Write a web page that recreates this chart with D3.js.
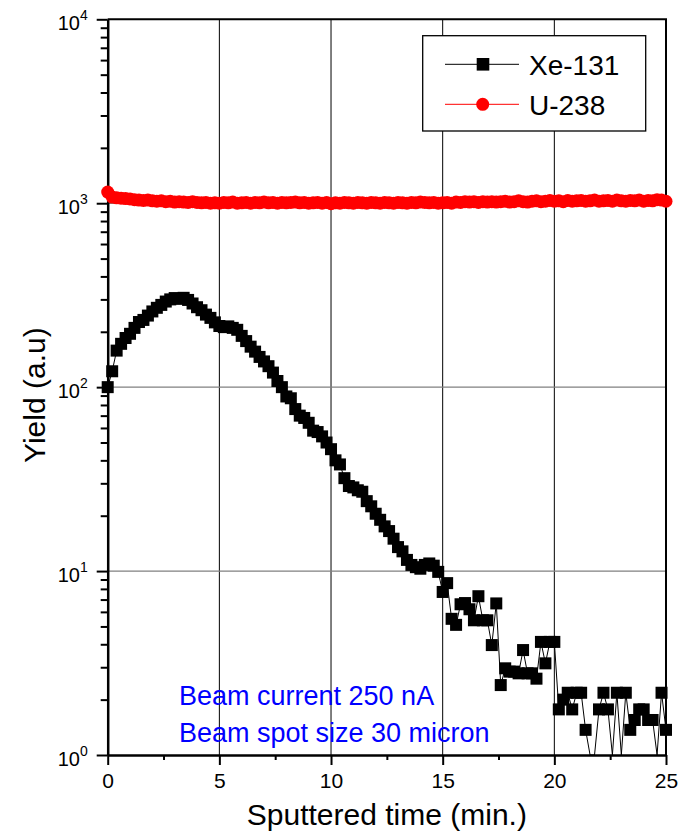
<!DOCTYPE html>
<html>
<head>
<meta charset="utf-8">
<script src="https://cdn.jsdelivr.net/npm/d3@7"></script>
<style>
  body { margin: 0; background: #fff; }
  svg { font-family: "Liberation Sans", Arial, sans-serif; }
</style>
</head>
<body>
<div id="grafico"></div>
<script>
// datos (paso de 0.2 min)
const TIEMPO_PASO = 0.2;
const XE_131 = [
  100, 122, 158, 172, 185, 195,
  210, 226, 232, 245, 258,
  270, 280, 292, 300, 305,
  302, 306, 298, 285, 272,
  262, 248, 238, 225, 215,
  212, 214, 210, 205, 190,
  178, 166, 156, 146, 138,
  130, 120, 108, 100, 89,
  87, 76, 70, 68, 64,
  58, 57, 54, 50, 46,
  40, 38, 32, 29, 28.5,
  27.5, 27, 24, 22.5, 20.5,
  19, 17.5, 16.5, 15, 13.5,
  12.8, 11.5, 10.8, 10.5, 10.3,
  10.8, 11.0, 10.7, 9.9, 7.7,
  8.6, 5.5, 5.1, 6.6, 6.7,
  6.2, 5.4, 7.3, 5.4, 5.4,
  3.96, 6.67, 2.4, 2.96, 2.84,
  2.84, 2.78, 3.72, 2.78, 2.78,
  2.6, 4.12, 3.15, 4.12, 4.12,
  1.77, 2.0, 2.18, 1.77, 2.18,
  2.18, 1.37, 0, 0, 1.77,
  2.18, 1.77, 0, 2.18, 0,
  2.18, 1.37, 1.55, 1.77, 1.77,
  1.55, 1.55, 0, 2.18, 1.37
];
const U_238 = [
  1150, 1080, 1070, 1065, 1060, 1055,
  1045, 1040, 1035, 1040, 1030,
  1025, 1030, 1020, 1025, 1015,
  1020, 1015, 1010, 1020, 1010,
  1005, 1010, 1000, 1005, 1000,
  1010, 1005, 1015, 1000, 1005,
  1010, 1000, 1010, 1005, 1015,
  1005, 1010, 1000, 1010, 1005,
  1010, 1015, 1005, 1010, 1000,
  1005, 1010, 1000, 1010, 995,
  1005, 1000, 1010, 1005, 1000,
  1010, 1005, 1000, 1010, 1005,
  1000, 1010, 1005, 1000, 1010,
  1005, 1000, 1010, 1005, 1015,
  1010, 1005, 1010, 1000, 1005,
  1010, 1000, 1015, 1010, 1020,
  1015, 1020, 1010, 1020, 1015,
  1020, 1015, 1020, 1025, 1015,
  1020, 1030, 1020, 1015, 1025,
  1030, 1020, 1025, 1035, 1025,
  1030, 1020, 1035, 1025, 1030,
  1035, 1025, 1030, 1040, 1025,
  1030, 1035, 1025, 1040, 1030,
  1025, 1035, 1030, 1040, 1025,
  1035, 1030, 1045, 1040, 1025
];
const X_TICKS = [0, 5, 10, 15, 20, 25];
const X_MINOR = [2.5, 7.5, 12.5, 17.5, 22.5];
const Y_TICKS = [1, 10, 100, 1000, 10000];
const Y_EXP = ["0", "1", "2", "3", "4"];
const SERIES = ["Xe-131", "U-238"];
const NOTAS = ["Beam current 250 nA", "Beam spot size 30 micron"];

const WIDTH = 681;
const HEIGHT = 833;
const X0 = 107.7, X1 = 666, Y0 = 755, Y1 = 19.3;

const SVG = d3.select("#grafico").append("svg").attr("width", WIDTH).attr("height", HEIGHT);

var x = d3.scaleLinear().domain([0, 25]).range([X0, X1]);
var y = d3.scaleLog().domain([1, 10000]).range([Y0, Y1]);

// grilla
SVG.append("g").selectAll("line")
  .data(X_TICKS.slice(1, -1))
  .enter().append("line")
  .attr("x1", d => x(d)).attr("x2", d => x(d))
  .attr("y1", Y0).attr("y2", Y1)
  .attr("stroke", "#000").attr("stroke-width", 1);
SVG.append("g").selectAll("line")
  .data(Y_TICKS.slice(1, -1))
  .enter().append("line")
  .attr("x1", X0).attr("x2", X1)
  .attr("y1", d => y(d)).attr("y2", d => y(d))
  .attr("stroke", "#808080").attr("stroke-width", 1.3);

// marco superior y derecho
SVG.append("path")
  .attr("d", "M" + X0 + "," + Y1 + "H" + X1 + "V" + Y0)
  .attr("fill", "none").attr("stroke", "#000").attr("stroke-width", 2);

// ejes
var ejeX = SVG.append("g").attr("transform", "translate(0," + Y0 + ")")
  .call(d3.axisBottom(x).tickValues(X_TICKS).tickSize(10).tickSizeOuter(0).tickPadding(8));
SVG.append("g").attr("transform", "translate(0," + Y0 + ")")
  .call(d3.axisBottom(x).tickValues(X_MINOR).tickSize(5).tickFormat(""))
  .select(".domain").remove();
ejeX.selectAll("text").attr("font-size", 21).attr("fill", "#000").attr("font-family", null);

var minorY = [];
Y_TICKS.slice(0, -1).forEach(function(d) {
  for (var k = 2; k <= 9; k++) minorY.push(d * k);
});
var ejeY = SVG.append("g").attr("transform", "translate(" + X0 + ",0)")
  .call(d3.axisLeft(y).tickValues(Y_TICKS).tickSize(11).tickSizeOuter(0).tickFormat(""));
SVG.append("g").attr("transform", "translate(" + X0 + ",0)")
  .call(d3.axisLeft(y).tickValues(minorY).tickSize(7).tickFormat(""))
  .select(".domain").remove();
ejeY.selectAll(".tick").append("text")
  .attr("x", -20).attr("y", 10)
  .attr("text-anchor", "end")
  .attr("fill", "#000")
  .attr("font-size", 20)
  .each(function(d, i) {
    var t = d3.select(this);
    t.append("tspan").text("10");
    t.append("tspan").attr("dy", -10).attr("font-size", 14).text(Y_EXP[i]);
  });
SVG.selectAll(".domain").attr("stroke-width", 2.5);
SVG.selectAll(".tick line").attr("stroke-width", 2);

// títulos de ejes
SVG.append("text")
  .attr("x", (X0 + X1) / 2).attr("y", 825)
  .attr("text-anchor", "middle").attr("font-size", 30)
  .text("Sputtered time (min.)");
SVG.append("text")
  .attr("transform", "translate(45," + ((Y0 + Y1) / 2 + 8) + ") rotate(-90)")
  .attr("text-anchor", "middle").attr("font-size", 30)
  .text("Yield (a.u)");

// series
var datosXe = XE_131.map((v, i) => ({ t: +(i * TIEMPO_PASO).toFixed(1), v: v }));
var datosU = U_238.map((v, i) => ({ t: +(i * TIEMPO_PASO).toFixed(1), v: v }));

var linea = d3.line()
  .x(d => x(d.t))
  .y(d => y(Math.max(d.v, 1)));

SVG.append("path").datum(datosU)
  .attr("d", linea).attr("fill", "none").attr("stroke", "red").attr("stroke-width", 1);
SVG.append("g").selectAll("circle")
  .data(datosU)
  .enter().append("circle")
  .attr("cx", d => x(d.t)).attr("cy", d => y(d.v))
  .attr("r", 6.5).attr("fill", "red");

SVG.append("path").datum(datosXe)
  .attr("d", linea).attr("fill", "none").attr("stroke", "#000").attr("stroke-width", 1);
SVG.append("g").selectAll("rect")
  .data(datosXe.filter(d => d.v > 0))
  .enter().append("rect")
  .attr("x", d => x(d.t) - 6).attr("y", d => y(d.v) - 6)
  .attr("width", 12).attr("height", 12).attr("fill", "#000");

// leyenda
var leyenda = SVG.append("g").attr("transform", "translate(422.7,35.7)");
leyenda.append("rect")
  .attr("width", 223).attr("height", 95.3)
  .attr("fill", "#fff").attr("stroke", "#000").attr("stroke-width", 1.3);
var item = leyenda.selectAll(".item")
  .data(SERIES)
  .enter().append("g")
  .attr("class", "item")
  .attr("transform", (d, i) => "translate(0," + (28.6 + i * 40) + ")");
item.append("line")
  .attr("x1", 22.3).attr("x2", 96.3)
  .attr("stroke", (d, i) => i === 0 ? "#000" : "red").attr("stroke-width", 1);
item.filter((d, i) => i === 0).append("rect")
  .attr("x", 54).attr("y", -6.3).attr("width", 12.6).attr("height", 12.6).attr("fill", "#000");
item.filter((d, i) => i === 1).append("circle")
  .attr("cx", 60).attr("r", 6.5).attr("fill", "red");
item.append("text")
  .attr("x", 106.3).attr("y", 11)
  .attr("font-size", 28)
  .text(d => d);

// notas
SVG.append("g").selectAll("text")
  .data(NOTAS)
  .enter().append("text")
  .attr("x", 179).attr("y", (d, i) => 705 + i * 37)
  .attr("font-size", 27).attr("fill", "#0000ff")
  .text(d => d);
</script>
</body>
</html>
